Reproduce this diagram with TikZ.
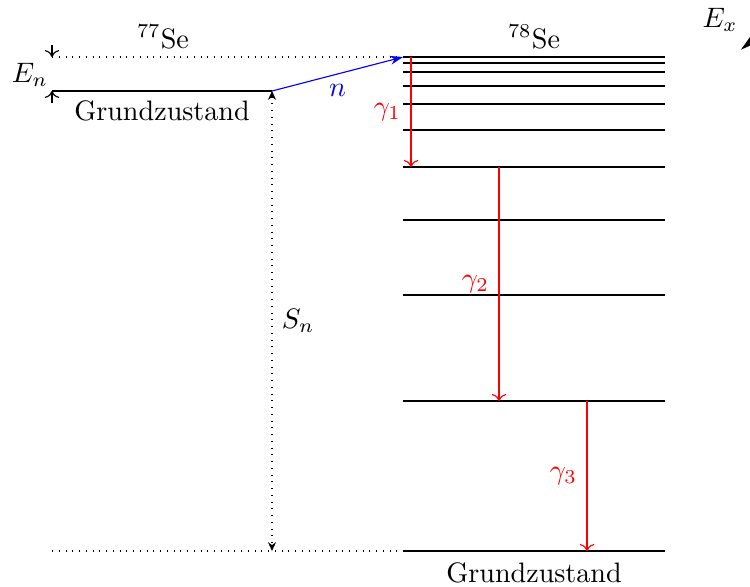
\documentclass[tikz,border=0pt]{standalone}
\usetikzlibrary{arrows.meta, positioning, calc}
\begin{document}
\begin{tikzpicture}[
        x=0.0125cm, y=-0.0125cm,
        level/.style={line width=1pt},
        gam/.style={red, ->},
        guide/.style={dotted},
        neutron/.style={blue, -{Stealth[length=1.6mm, width=1.1mm]}},
        sep/.style={dotted, {Stealth[length=1.1mm, width=1mm]}-{Stealth[length=1.1mm, width=1mm]}},
        axis/.style={thick, -{Stealth[length=7pt, width=10pt]}}
    ]
        \useasboundingbox (0,0) rectangle (750,586);

        % 77Se ground state
        \coordinate (gs77l) at (52,91);
        \coordinate (gs77r) at (272,91);
        \coordinate (en) at (52,57);
        \draw[level] (gs77l) -- (gs77r);
        \node (se77) at (163,37) {$^{77}$Se};
        \node (gs77txt) at (162,111) {Grundzustand};

        % 78Se levels
        \foreach \y [count=\i] in {57,63,72,86,104,130,167,220,295,401,551}
            \draw[level] (403,\y) coordinate (l\i a) -- (665,\y) coordinate (l\i b);
        \node (se78) at (534,37) {$^{78}$Se};
        \node (gs78txt) at (534,573) {Grundzustand};

        % guide lines
        \draw[guide] (en) -- (l1a);
        \draw[guide] (l11a -| gs77l) -- (l11a);

        % neutron capture and separation energy
        \draw[neutron] (gs77r) -- (l1a) node[midway, below] {\color{blue}$n$};
        \draw[sep] (gs77r) -- (gs77r |- l11a) node[midway, right] {$S_n$};

        % E_n marker
        \coordinate (enabove) at (52,45);
        \coordinate (enbelow) at (52,103);
        \draw[->] (enabove) -- (en);
        \draw[->] (enbelow) -- (gs77l);
        \node (enlbl) at (30,75) {$E_n$};

        % gamma cascade
        \coordinate (g1) at (411,0);
        \coordinate (g2) at (499,0);
        \coordinate (g3) at (587,0);
        \draw[gam] (l1a -| g1) -- (l7a -| g1) node[midway, left] {$\gamma_1$};
        \draw[gam] (l7a -| g2) -- (l10a -| g2) node[midway, left] {$\gamma_2$};
        \draw[gam] (l10a -| g3) -- (l11a -| g3) node[midway, left] {$\gamma_3$};

        % excitation energy axis
        \coordinate (exbot) at (755,551);
        \coordinate (extop) at (755,30);
        \draw[axis] (exbot) -- (extop);
        \node (exlbl) at (720,20) {$E_x$};
    \end{tikzpicture}
\end{document}
